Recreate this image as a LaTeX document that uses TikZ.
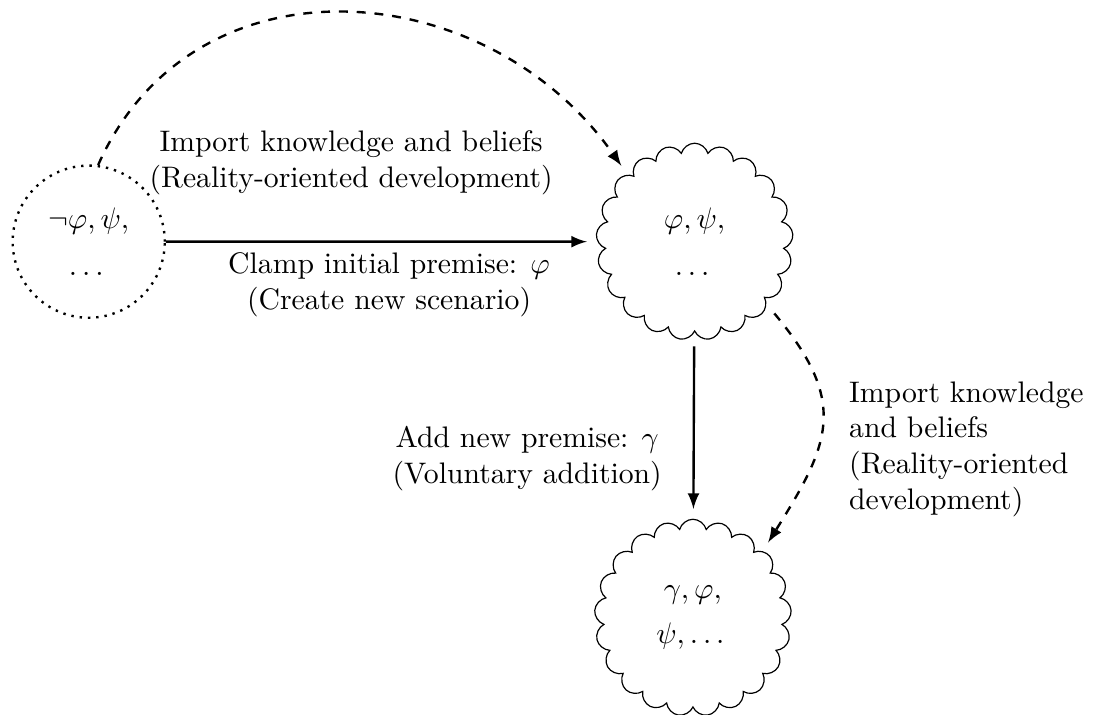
\documentclass[tikz,border=0pt]{standalone}
\usepackage{amsmath}
\usepackage{amssymb}
\usepackage{tikz}
\usetikzlibrary{arrows,shapes.symbols}
\begin{document}
\begin{tikzpicture}
\tikzset{world/.style = {shape=circle,draw,thick,dotted,minimum size=1.8cm,align=center,inner sep=0pt}}
\tikzset{scenario/.style = {shape=cloud,draw,cloud puffs=21,aspect=1,minimum size=2.33cm,align=center,inner sep=0pt,outer sep=3.5pt}}
\tikzset{move/.style = {->,> = latex,thick}}
\useasboundingbox (0,0) rectangle (13.10,8.46);
% worlds
\node[world] (a) at  (1.05,5.60) {$\neg\varphi, \psi,$\\[4pt] $\dots$};
\node[scenario] (b) at  (8.22,5.60) {$\varphi, \psi,$\\[4pt] $\dots$};
\node[scenario] (c) at  (8.20,1.15) {$\gamma, \varphi,$\\[3pt] $\psi, \dots$};
%edges
\path[move] (a) edge
node[above=12pt,pos=0.44,align=center]{Import knowledge and beliefs\\(Reality-oriented development)}
node[below,pos=0.53,align=center]{Clamp initial premise: $\varphi$\\(Create new scenario)} (b);
\path[move] (b) edge node[left=7pt,pos=0.69,align=center]{Add new premise: $\gamma$\\(Voluntary addition)} (c);

\path[move,dashed] (a.83) edge[out=66,in=125,looseness=1.15] (b.134);
\path[move,dashed] (b.-42) edge[out=-50,in=58,looseness=1.3]
node[right=7pt,pos=0.62,align=left]{Import knowledge\\and beliefs\\(Reality-oriented\\development)} (c.45);

\end{tikzpicture}
\end{document}
